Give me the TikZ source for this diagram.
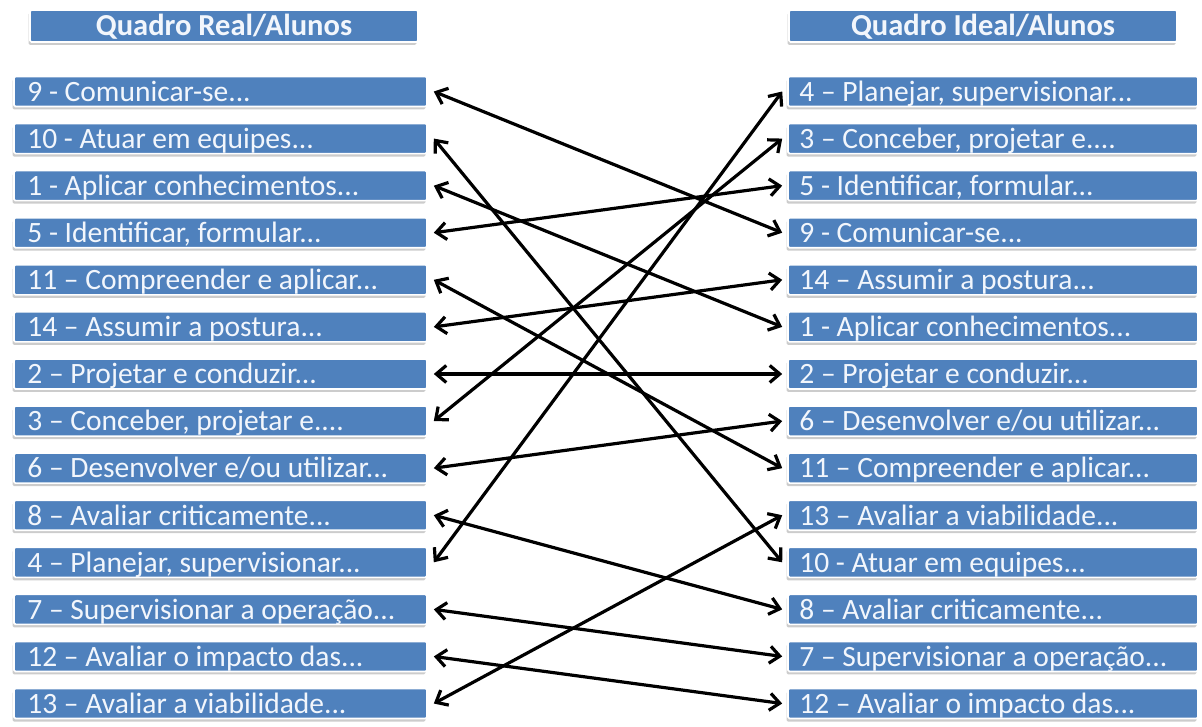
\documentclass[tikz,border=0pt]{standalone}
\usepackage{fontspec}
\setmainfont{Carlito}
\usetikzlibrary{arrows.meta,shadows}
\definecolor{boxblue}{HTML}{4F81BD}
\definecolor{boxtext}{HTML}{F2F6FC}
\tikzset{
  item/.style={draw=white, line width=1.6pt, fill=boxblue, minimum height=30pt,
    text=boxtext, anchor=center,
    drop shadow={opacity=0.4, shadow xshift=-1.5pt, shadow yshift=-3pt, fill=gray},
    inner sep=0pt, rounded corners=1.5pt},
  lbox/.style={item, minimum width=413pt},
  rbox/.style={item, minimum width=410pt},
  hbox/.style={item, minimum width=388pt, minimum height=32pt},
  label/.style={anchor=base west, text=boxtext, inner sep=0pt, font=\fontsize{29.5}{31}\selectfont},
  htext/.style={anchor=base, text=boxtext, inner sep=0pt, font=\fontsize{30.5}{32}\selectfont\bfseries},
  link/.style={{Straight Barb[length=10pt,width=17pt]}-{Straight Barb[length=10pt,width=17pt]}, line width=3.2pt, black}
}
\newcommand{\lrow}[2]{\node[lbox] (L#1) at (220.5,{726-91.5-47.08*#1}) {};
  \node[label] (LT#1) at ([xshift=14pt,yshift=-9.8pt]L#1.west) {#2};}
\newcommand{\rrow}[2]{\node[rbox] (R#1) at (993,{726-91.5-47.08*#1}) {};
  \node[label] (RT#1) at ([xshift=12pt,yshift=-9.8pt]R#1.west) {#2};}
\begin{document}
\begin{tikzpicture}[x=1pt,y=1pt]
\useasboundingbox (0,0) rectangle (1202,726);
\node[hbox] (HL) at (224,700) {};
\node[htext] (HLT) at ([yshift=-9.8pt]HL.center) {Quadro Real/Alunos};
\node[hbox] (HR) at (983,700) {};
\node[htext] (HRT) at ([yshift=-9.8pt]HR.center) {Quadro Ideal/Alunos};
\lrow{0}{9 - Comunicar-se...}
\lrow{1}{10 - Atuar em equipes...}
\lrow{2}{1 - Aplicar conhecimentos...}
\lrow{3}{5 - Identificar, formular...}
\lrow{4}{11 – Compreender e aplicar...}
\lrow{5}{14 – Assumir a postura...}
\lrow{6}{2 – Projetar e conduzir...}
\lrow{7}{3 – Conceber, projetar e....}
\lrow{8}{6 – Desenvolver e/ou utilizar...}
\lrow{9}{8 – Avaliar criticamente...}
\lrow{10}{4 – Planejar, supervisionar...}
\lrow{11}{7 – Supervisionar a operação...}
\lrow{12}{12 – Avaliar o impacto das...}
\lrow{13}{13 – Avaliar a viabilidade...}
\rrow{0}{4 – Planejar, supervisionar...}
\rrow{1}{3 – Conceber, projetar e....}
\rrow{2}{5 - Identificar, formular...}
\rrow{3}{9 - Comunicar-se...}
\rrow{4}{14 – Assumir a postura...}
\rrow{5}{1 - Aplicar conhecimentos...}
\rrow{6}{2 – Projetar e conduzir...}
\rrow{7}{6 – Desenvolver e/ou utilizar...}
\rrow{8}{11 – Compreender e aplicar...}
\rrow{9}{13 – Avaliar a viabilidade...}
\rrow{10}{10 - Atuar em equipes...}
\rrow{11}{8 – Avaliar criticamente...}
\rrow{12}{7 – Supervisionar a operação...}
\rrow{13}{12 – Avaliar o impacto das...}
\foreach \a/\b in {0/3,1/10,2/5,3/2,4/8,5/4,6/6,7/1,8/7,9/11,10/0,11/12,12/13,13/9}
  \draw[link] ([xshift=6pt]L\a.east) -- ([xshift=-5pt]R\b.west);
\end{tikzpicture}
\end{document}
